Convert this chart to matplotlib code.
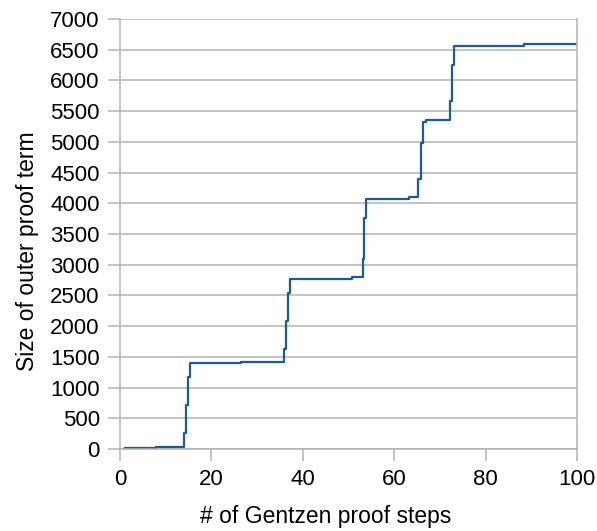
import matplotlib
matplotlib.use('Agg')
import matplotlib.pyplot as plt

plt.rcParams['font.family'] = ['Liberation Sans', 'DejaVu Sans']

# Puntos de cambio de la curva escalonada (x = pasos de prueba, y = tamaño)
pasos = [1, 7.8, 14.0, 14.45, 14.8, 15.3, 26.5, 35.9, 36.3, 36.7, 37.3,
         50.7, 53.1, 53.4, 53.9, 63.2, 65.3, 65.8, 66.2, 66.9, 72.3, 72.7,
         73.1, 88.4, 100]
tamano = [10, 35, 255, 717, 1178, 1396, 1422, 1629, 2090, 2547, 2770,
          2797, 3100, 3758, 4073, 4110, 4399, 4980, 5316, 5360, 5658, 6256,
          6560, 6593, 6593]

xticks = [0, 20, 40, 60, 80, 100]
yticks = list(range(0, 7001, 500))

gris = '#b3b3b3'

fig = plt.figure(figsize=(5.97, 5.31), dpi=100)
ax = fig.add_axes([0.201, 0.1544, 0.7655, 0.8098])

ax.plot(pasos, tamano, drawstyle='steps-post', color='#1c5a9a', linewidth=1.6)

ax.set_xlim(0, 100)
ax.set_ylim(0, 7000)
ax.set_xticks(xticks)
ax.set_yticks(yticks)

ax.yaxis.grid(True, color=gris, linewidth=1.1)
ax.set_axisbelow(True)

for lado in ['left', 'bottom', 'right']:
    ax.spines[lado].set_color(gris)
    ax.spines[lado].set_linewidth(1.1)
ax.spines['top'].set_visible(False)

ax.tick_params(axis='both', colors=gris, length=8.5, width=1.1,
               labelcolor='black', labelsize=16)
ax.tick_params(axis='x', pad=6)
ax.tick_params(axis='y', pad=6)

ax.set_xlabel('# of Gentzen proof steps', fontsize=16.5)
ax.set_ylabel('Size of outer proof term', fontsize=16.5)
# los títulos de eje del original no están centrados en el área de trazado
ax.xaxis.set_label_coords(0.451, -0.13)
ax.yaxis.set_label_coords(-0.178, 0.459)

fig.savefig('out.png', dpi=100)
